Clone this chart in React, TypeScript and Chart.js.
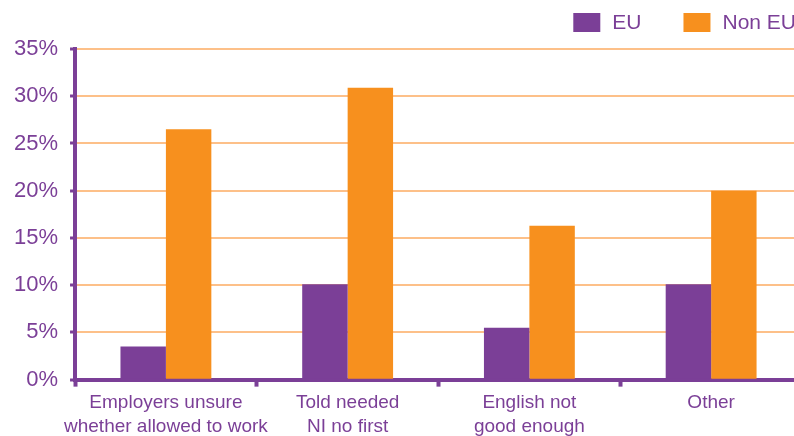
import React, { useEffect, useRef } from "react";
import { Chart, registerables } from "chart.js";

Chart.register(...registerables);

const categories: string[][] = [
  ["Employers unsure", "whether allowed to work"],
  ["Told needed", "NI no first"],
  ["English not", "good enough"],
  ["Other"],
];
const euValues = [3.5, 10.1, 5.5, 10.1];
const nonEuValues = [26.5, 30.9, 16.3, 20.0];
const seriesNames = ["EU", "Non EU"];
const yTicks = [0, 5, 10, 15, 20, 25, 30, 35];

const PURPLE = "#7B3F97";
const ORANGE = "#F7901E";
const GRID = "#FDC089";
const FONT = "'Liberation Sans', Arial, sans-serif";

const legendPlugin = {
  id: "customLegend",
  afterDraw(chart: any) {
    const ctx = chart.ctx;
    const area = chart.chartArea;
    ctx.save();
    ctx.font = `21px ${FONT}`;
    ctx.textBaseline = "middle";
    ctx.textAlign = "left";
    const boxW = 27;
    const boxH = 19;
    const gap = 12;
    const itemGap = 42;
    const cy = 22.5;
    const items = chart.data.datasets.map((d: any) => ({
      text: d.label,
      color: d.backgroundColor,
      w: ctx.measureText(d.label).width,
    }));
    let x = area.right - 6;
    for (let i = items.length - 1; i >= 0; i--) {
      const it = items[i];
      const textX = x - it.w;
      const boxX = textX - gap - boxW;
      ctx.fillStyle = it.color;
      ctx.fillRect(boxX, cy - boxH / 2, boxW, boxH);
      ctx.fillStyle = PURPLE;
      ctx.fillText(it.text, textX, cy + 1);
      x = boxX - itemGap;
    }
    ctx.restore();
  },
};

export default function App() {
  const ref = useRef<HTMLCanvasElement | null>(null);
  useEffect(() => {
    document.body.style.margin = "0";
    document.body.style.overflow = "hidden";
    const chart = new Chart(ref.current as HTMLCanvasElement, {
      type: "bar",
      data: {
        labels: categories,
        datasets: [
          { label: seriesNames[0], data: euValues, backgroundColor: PURPLE, borderWidth: 0 },
          { label: seriesNames[1], data: nonEuValues, backgroundColor: ORANGE, borderWidth: 0 },
        ],
      },
      options: {
        responsive: false,
        animation: false,
        devicePixelRatio: 1,
        layout: { padding: { left: 2, right: 6, top: 49, bottom: 0 } },
        plugins: {
          legend: { display: false },
          tooltip: { enabled: false },
        },
        datasets: {
          bar: { categoryPercentage: 0.5, barPercentage: 1.0 },
        },
        scales: {
          x: {
            grid: {
              display: true,
              drawOnChartArea: false,
              drawTicks: true,
              tickLength: 7,
              tickColor: PURPLE,
              tickWidth: 4,
              offset: true,
            },
            border: { display: true, color: PURPLE, width: 4 },
            ticks: {
              color: PURPLE,
              font: { family: FONT, size: 19, lineHeight: 1.22 },
              padding: 5,
              maxRotation: 0,
              autoSkip: false,
            },
          },
          y: {
            min: 0,
            max: 35,
            afterBuildTicks: (scale: any) => {
              scale.ticks = yTicks.map((v) => ({ value: v }));
            },
            grid: {
              color: GRID,
              lineWidth: 2,
              drawTicks: true,
              tickLength: 5,
              tickColor: PURPLE,
              tickWidth: 3,
            },
            border: { display: true, color: PURPLE, width: 4 },
            ticks: {
              color: PURPLE,
              font: { family: FONT, size: 22 },
              padding: 12,
              callback: (v: any) => `${v}%`,
            },
          },
        },
      },
      plugins: [legendPlugin],
    });
    return () => chart.destroy();
  }, []);
  return (
    <div style={{ position: "fixed", left: 0, top: 0, width: 808, height: 443, background: "#fff", overflow: "hidden" }}>
      <canvas ref={ref} width={808} height={443} style={{ display: "block" }} />
    </div>
  );
}
